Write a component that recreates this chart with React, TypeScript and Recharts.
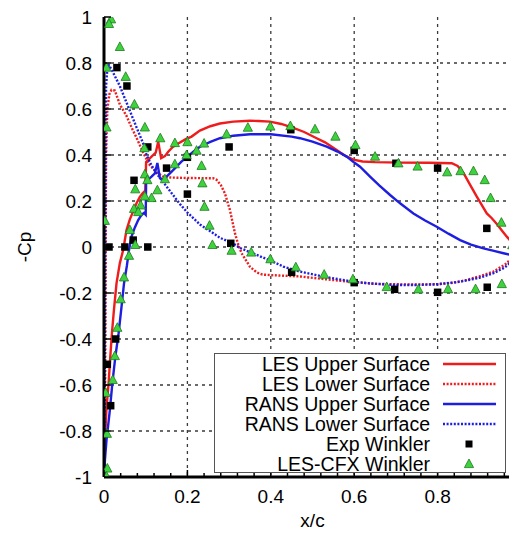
import React from "react";
import { ComposedChart, Line, Scatter, XAxis, YAxis, CartesianGrid, Label } from "recharts";

// x/c, -Cp pairs
const lesUpper: [number, number][] = [
  [0.0, -1.0], [0.001, -0.9], [0.003, -0.81], [0.006, -0.7], [0.011, -0.593], [0.015, -0.48],
  [0.019, -0.375], [0.024, -0.27], [0.03, -0.158], [0.038, -0.07], [0.046, -0.013], [0.054, 0.074],
  [0.062, 0.12], [0.07, 0.155], [0.078, 0.19], [0.086, 0.218], [0.093, 0.235], [0.099, 0.245],
  [0.101, 0.37], [0.114, 0.393], [0.124, 0.41], [0.13, 0.458], [0.137, 0.386], [0.146, 0.395],
  [0.154, 0.414], [0.165, 0.435], [0.178, 0.45], [0.195, 0.468], [0.21, 0.48], [0.23, 0.506],
  [0.255, 0.525], [0.278, 0.537], [0.31, 0.545], [0.35, 0.549], [0.37, 0.548], [0.398, 0.545],
  [0.425, 0.535], [0.454, 0.518], [0.48, 0.5], [0.51, 0.473], [0.53, 0.455], [0.558, 0.422],
  [0.58, 0.395], [0.598, 0.38], [0.62, 0.372], [0.65, 0.369], [0.71, 0.367], [0.78, 0.366],
  [0.834, 0.364], [0.848, 0.352], [0.862, 0.322], [0.878, 0.27], [0.894, 0.219], [0.91, 0.17],
  [0.918, 0.146], [0.93, 0.125], [0.942, 0.1], [0.955, 0.07], [0.966, 0.045], [0.978, 0.02],
  [0.99, -0.004], [1.0, -0.025],
];

const lesLower: [number, number][] = [
  [0.002, -0.95], [0.003, -0.5], [0.004, 0.0], [0.005, 0.4], [0.008, 0.6], [0.013, 0.665],
  [0.018, 0.683], [0.026, 0.68], [0.038, 0.62], [0.054, 0.57], [0.066, 0.52], [0.078, 0.475],
  [0.094, 0.41], [0.11, 0.355], [0.126, 0.325], [0.142, 0.306], [0.16, 0.302], [0.2, 0.3],
  [0.262, 0.299], [0.27, 0.292], [0.28, 0.27], [0.29, 0.233], [0.302, 0.161], [0.314, 0.06],
  [0.322, 0.01], [0.33, -0.027], [0.35, -0.086], [0.366, -0.11], [0.38, -0.12], [0.42, -0.124],
  [0.47, -0.128], [0.53, -0.14], [0.598, -0.153], [0.65, -0.16], [0.694, -0.162], [0.75, -0.163],
  [0.798, -0.162], [0.84, -0.155], [0.87, -0.143], [0.9, -0.128], [0.934, -0.107], [0.966, -0.071],
  [0.986, -0.027], [1.0, 0.0],
];

const ransUpper: [number, number][] = [
  [0.0, -1.0], [0.002, -0.93], [0.006, -0.84], [0.014, -0.71], [0.02, -0.593], [0.027, -0.48],
  [0.035, -0.375], [0.042, -0.26], [0.048, -0.158], [0.055, -0.08], [0.06, -0.013], [0.066, 0.045],
  [0.074, 0.085], [0.082, 0.117], [0.09, 0.14], [0.096, 0.148], [0.1, 0.14], [0.101, 0.285],
  [0.114, 0.306], [0.122, 0.32], [0.128, 0.365], [0.134, 0.3], [0.142, 0.292], [0.155, 0.315],
  [0.17, 0.342], [0.185, 0.37], [0.2, 0.393], [0.215, 0.415], [0.23, 0.436], [0.255, 0.457],
  [0.278, 0.473], [0.31, 0.484], [0.35, 0.49], [0.4, 0.49], [0.45, 0.48], [0.47, 0.473],
  [0.5, 0.458], [0.534, 0.436], [0.56, 0.415], [0.582, 0.393], [0.6, 0.367], [0.614, 0.349],
  [0.638, 0.306], [0.66, 0.268], [0.686, 0.226], [0.71, 0.19], [0.742, 0.146], [0.77, 0.115],
  [0.798, 0.088], [0.826, 0.058], [0.854, 0.03], [0.88, 0.01], [0.91, -0.006], [0.935, -0.017],
  [0.958, -0.027], [0.98, -0.036], [1.0, -0.045],
];

const ransLower: [number, number][] = [
  [0.001, -1.0], [0.002, -0.5], [0.003, 0.0], [0.004, 0.4], [0.005, 0.7], [0.008, 0.775],
  [0.012, 0.79], [0.02, 0.765], [0.038, 0.7], [0.058, 0.61], [0.078, 0.52], [0.094, 0.45],
  [0.102, 0.4], [0.114, 0.355], [0.126, 0.32], [0.145, 0.275], [0.166, 0.225], [0.182, 0.187],
  [0.2, 0.15], [0.23, 0.098], [0.262, 0.06], [0.278, 0.04], [0.31, 0.015], [0.326, -0.004],
  [0.36, -0.03], [0.398, -0.058], [0.43, -0.085], [0.47, -0.107], [0.53, -0.13], [0.598, -0.151],
  [0.65, -0.16], [0.7, -0.165], [0.75, -0.165], [0.8, -0.162], [0.854, -0.151], [0.9, -0.134],
  [0.934, -0.114], [0.96, -0.09], [0.982, -0.057], [1.0, -0.03],
];

const expWinkler: [number, number][] = [
  [0.008, -0.51], [0.016, -0.69], [0.028, -0.4], [0.012, 0.0], [0.031, 0.78], [0.05, 0.0],
  [0.055, 0.7], [0.07, 0.03], [0.072, 0.29], [0.105, 0.435], [0.105, 0.0], [0.15, 0.343],
  [0.2, 0.39], [0.2, 0.23], [0.3, 0.435], [0.304, 0.016], [0.448, 0.51], [0.45, -0.11],
  [0.6, 0.42], [0.6, -0.155], [0.7, 0.364], [0.697, -0.184], [0.8, 0.343], [0.8, -0.197],
  [0.918, 0.081], [0.919, -0.175],
];

const lesCfx: [number, number][] = [
  [0.017, 0.99], [0.012, 0.97], [0.038, 0.87], [0.006, 0.78], [0.052, 0.74], [0.073, 0.62],
  [0.006, 0.52], [0.098, 0.52], [0.097, 0.43], [0.002, 0.114], [0.135, 0.473], [0.17, 0.452],
  [0.2, 0.456], [0.222, 0.419], [0.24, 0.45], [0.294, 0.49], [0.345, 0.519], [0.399, 0.524],
  [0.447, 0.526], [0.506, 0.512], [0.555, 0.48], [0.603, 0.443], [0.65, 0.393], [0.706, 0.364],
  [0.752, 0.35], [0.823, 0.325], [0.855, 0.33], [0.886, 0.33], [0.913, 0.291], [0.927, 0.213],
  [0.953, 0.106], [0.979, 0.008], [0.198, 0.4], [0.17, 0.36], [0.098, 0.316], [0.104, 0.291],
  [0.146, 0.295], [0.234, 0.353], [0.075, 0.251], [0.128, 0.247], [0.114, 0.213], [0.098, 0.22],
  [0.072, 0.166], [0.088, 0.181], [0.082, 0.152], [0.236, 0.277], [0.241, 0.175], [0.253, 0.093],
  [0.26, 0.009], [0.062, 0.074], [0.075, 0.009], [0.06, -0.038], [0.306, -0.016], [0.353, -0.024],
  [0.399, -0.053], [0.46, -0.088], [0.528, -0.12], [0.597, -0.14], [0.678, -0.174], [0.754, -0.184],
  [0.825, -0.183], [0.891, -0.183], [0.954, -0.161], [0.99, -0.114], [0.048, -0.132], [0.04, -0.227],
  [0.032, -0.351], [0.026, -0.474], [0.021, -0.578], [0.004, -0.634], [0.007, -0.812], [0.008, -0.963],
  [0.006, -0.998],
];

const xTicks = [
  0, 0.04, 0.08, 0.12, 0.16, 0.2, 0.24, 0.28, 0.32, 0.36, 0.4, 0.44, 0.48, 0.52, 0.56, 0.6,
  0.64, 0.68, 0.72, 0.76, 0.8, 0.84, 0.88, 0.92, 0.96, 1,
];
const xMajor = [0, 0.2, 0.4, 0.6, 0.8, 1];
const yTicks = [-1, -0.8, -0.6, -0.4, -0.2, 0, 0.2, 0.4, 0.6, 0.8, 1];
const gridX = [0.2, 0.4, 0.6, 0.8];
const gridY = [-0.8, -0.6, -0.4, -0.2, 0, 0.2, 0.4, 0.6, 0.8];

const RED = "#ee1c1c";
const BLUE = "#1e1ee0";
const GREEN = "#3ed23e";
const FONT = '"Liberation Sans", Arial, Helvetica, sans-serif';

const toPts = (arr: [number, number][]) => arr.map(([x, y]) => ({ x, y }));
const isMajor = (v: number) => xMajor.some((m) => Math.abs(m - v) < 1e-9);

const BottomTick = (props: any) => {
  const { x, y, payload } = props;
  const axisY = y - 12;
  const major = isMajor(payload.value);
  return (
    <g>
      <line x1={x} x2={x} y1={axisY} y2={axisY - (major ? 7 : 4)} stroke="#000" strokeWidth={1.5} />
      {major && (
        <text x={x} y={axisY + 13} dy="0.71em" textAnchor="middle" fontSize={19} fontFamily={FONT} fill="#000">
          {payload.value}
        </text>
      )}
    </g>
  );
};

const TopTick = (props: any) => {
  const { x, y, payload } = props;
  const major = isMajor(payload.value);
  return <line x1={x} x2={x} y1={y} y2={y + (major ? 7 : 4)} stroke="#000" strokeWidth={1.5} />;
};

const LeftTick = (props: any) => {
  const { x, y, payload } = props;
  const axisX = x + 12;
  return (
    <g>
      <line x1={axisX} x2={axisX + 7} y1={y} y2={y} stroke="#000" strokeWidth={1.5} />
      <text x={x} y={y} dy="0.36em" textAnchor="end" fontSize={19} fontFamily={FONT} fill="#000">
        {payload.value}
      </text>
    </g>
  );
};

const RightTick = (props: any) => {
  const { x, y } = props;
  return <line x1={x} x2={x - 7} y1={y} y2={y} stroke="#000" strokeWidth={1.5} />;
};

const Square = (props: any) => {
  const { cx, cy } = props;
  return <rect x={cx - 3.75} y={cy - 3.75} width={7.5} height={7.5} fill="#000" />;
};

const Triangle = (props: any) => {
  const { cx, cy } = props;
  return (
    <polygon
      points={`${cx},${cy - 5} ${cx - 4.6},${cy + 3.6} ${cx + 4.6},${cy + 3.6}`}
      fill={GREEN}
      stroke="#1f7a1f"
      strokeWidth={0.8}
    />
  );
};

const YLabel = (props: any) => {
  const vb = props.viewBox;
  const cx = vb.x + 16;
  const cy = vb.y + vb.height / 2;
  return (
    <text x={cx} y={cy} transform={`rotate(-90 ${cx} ${cy})`} textAnchor="middle" dy="0.36em"
      fontSize={19} fontFamily={FONT} fill="#000">
      -Cp
    </text>
  );
};

const legendItems = [
  { label: "LES Upper Surface", kind: "line", color: RED, dash: "" },
  { label: "LES Lower Surface", kind: "line", color: RED, dash: "2 1.6" },
  { label: "RANS Upper Surface", kind: "line", color: BLUE, dash: "" },
  { label: "RANS Lower Surface", kind: "line", color: BLUE, dash: "2 1.6" },
  { label: "Exp Winkler", kind: "square", color: "#000", dash: "" },
  { label: "LES-CFX Winkler", kind: "triangle", color: GREEN, dash: "" },
];

const LegendBox = () => (
  <div
    style={{
      position: "absolute", left: 206, top: 345, width: 290, height: 118,
      border: "1px solid #555", background: "#fff", fontFamily: FONT, fontSize: 19.5,
    }}
  >
    {legendItems.map((it) => (
      <div key={it.label} style={{ display: "flex", height: 20, alignItems: "center" }}>
        <span style={{ width: 215, textAlign: "right", lineHeight: "20px", whiteSpace: "nowrap" }}>{it.label}</span>
        <svg width={70} height={20}>
          {it.kind === "line" && (
            <line x1={13} x2={66} y1={10} y2={10} stroke={it.color} strokeWidth={2.5}
              strokeDasharray={it.dash || undefined} />
          )}
          {it.kind === "square" && <rect x={35.5} y={6.5} width={7} height={7} fill="#000" />}
          {it.kind === "triangle" && (
            <polygon points="39,5 34.4,13.6 43.6,13.6" fill={GREEN} stroke="#1f7a1f" strokeWidth={0.8} />
          )}
        </svg>
      </div>
    ))}
  </div>
);

export default function App() {
  return (
    <div style={{ position: "relative", width: 509, height: 527, overflow: "hidden", background: "#fff" }}>
      <ComposedChart width={530} height={527} margin={{ top: 9, right: 17, bottom: 0, left: 0 }}>
        <CartesianGrid verticalValues={gridX} horizontalValues={gridY} stroke="#3a3a3a" strokeDasharray="3 4" strokeWidth={1.3} />
        <XAxis dataKey="x" type="number" domain={[0, 1]} ticks={xTicks} allowDataOverflow height={58}
          tickSize={0} tickMargin={12} tick={<BottomTick />} axisLine={{ stroke: "#000", strokeWidth: 3 }} interval={0}>
          <Label value="x/c" position="insideBottom" offset={8} fontSize={19} fontFamily={FONT} fill="#000" />
        </XAxis>
        <XAxis xAxisId="top" orientation="top" type="number" domain={[0, 1]} ticks={xTicks} allowDataOverflow
          height={0} tickSize={0} tickMargin={0} tick={<TopTick />} axisLine={{ stroke: "#000", strokeWidth: 3 }} interval={0} />
        <YAxis dataKey="y" type="number" domain={[-1, 1]} ticks={yTicks} allowDataOverflow width={96}
          tickSize={0} tickMargin={12} tick={<LeftTick />} axisLine={{ stroke: "#000", strokeWidth: 3 }} interval={0}>
          <Label content={<YLabel />} />
        </YAxis>
        <YAxis yAxisId="right" orientation="right" type="number" domain={[-1, 1]} ticks={yTicks} allowDataOverflow
          width={0} tickSize={0} tickMargin={0} tick={<RightTick />} axisLine={{ stroke: "#000", strokeWidth: 3 }} interval={0} />
        <Line data={toPts(lesUpper)} dataKey="y" type="linear" stroke={RED} strokeWidth={2.4} dot={false} isAnimationActive={false} />
        <Line data={toPts(lesLower)} dataKey="y" type="linear" stroke={RED} strokeWidth={2.4} strokeDasharray="2 1.6" dot={false} isAnimationActive={false} />
        <Line data={toPts(ransUpper)} dataKey="y" type="linear" stroke={BLUE} strokeWidth={2.4} dot={false} isAnimationActive={false} />
        <Line data={toPts(ransLower)} dataKey="y" type="linear" stroke={BLUE} strokeWidth={2.4} strokeDasharray="2 1.6" dot={false} isAnimationActive={false} />
        <Scatter data={toPts(expWinkler)} dataKey="y" shape={<Square />} isAnimationActive={false} />
        <Scatter data={toPts(lesCfx)} dataKey="y" shape={<Triangle />} isAnimationActive={false} />
      </ComposedChart>
      <LegendBox />
    </div>
  );
}
